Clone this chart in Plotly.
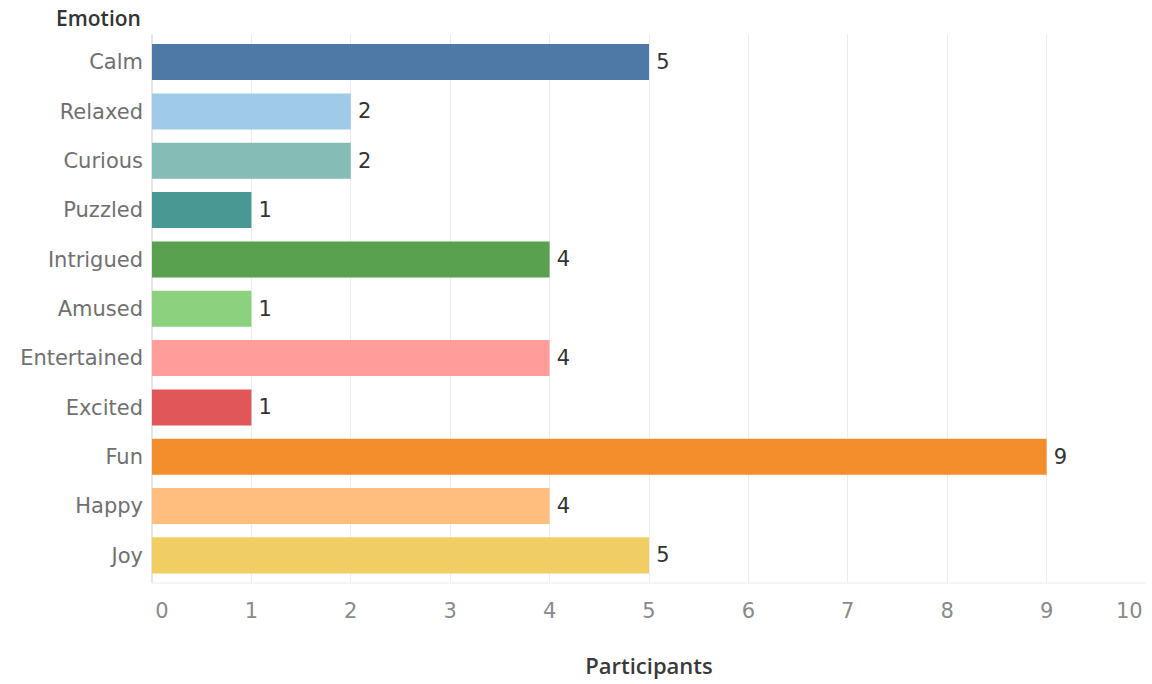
import plotly.graph_objects as go

# Participants per emotion
emotions = ["Calm", "Relaxed", "Curious", "Puzzled", "Intrigued", "Amused",
            "Entertained", "Excited", "Fun", "Happy", "Joy"]
participants = [5, 2, 2, 1, 4, 1, 4, 1, 9, 4, 5]
bar_colors = ["#4e79a7", "#a0cbe8", "#86bcb6", "#499894", "#59a14f", "#8cd17d",
              "#ff9d9a", "#e15759", "#f28e2b", "#ffbe7d", "#f1ce63"]
x_ticks = list(range(0, 11))
x_max = x_ticks[-1]
# first label nudged right off the axis line; the last one is right-aligned separately
x_tick_text = ["\u00a0\u00a0\u00a00"] + [str(v) for v in x_ticks[1:-1]] + [""]

font_family = "DejaVu Sans, Verdana, sans-serif"
title_family = "Open Sans, Noto Sans, sans-serif"
tick_font = dict(family=font_family, size=21, color="#8a8a8a")

fig = go.Figure(
    go.Bar(
        x=participants,
        y=emotions,
        orientation="h",
        marker=dict(color=bar_colors, line=dict(width=0)),
        text=["\u2009" + str(v) for v in participants],
        textposition="outside",
        textfont=dict(family=font_family, size=21, color="#333333"),
        cliponaxis=False,
        width=0.73,
    )
)

fig.update_layout(
    width=1152,
    height=684,
    margin=dict(l=152, r=6, t=34, b=101),
    paper_bgcolor="white",
    plot_bgcolor="white",
    showlegend=False,
    font=dict(family=font_family),
    xaxis=dict(
        range=[0, x_max],
        tickvals=x_ticks,
        ticktext=x_tick_text,
        automargin=False,
        showgrid=True,
        gridcolor="#ececec",
        gridwidth=1,
        zeroline=True,
        zerolinecolor="#e6e6e6",
        showline=False,
        ticks="",
        ticklabelstandoff=13,
        tickfont=tick_font,
        title=dict(text="Participants",
                   font=dict(family=title_family, size=22, color="#3a3a3a", weight=600),
                   standoff=36),
        fixedrange=True,
    ),
    yaxis=dict(
        categoryorder="array",
        categoryarray=emotions,
        autorange=False,
        range=[10.56, -0.57],
        automargin=False,
        showgrid=False,
        zeroline=False,
        showline=False,
        ticks="",
        ticklabelstandoff=8,
        tickfont=dict(family=font_family, size=21, color="#707070"),
        fixedrange=True,
    ),
    shapes=[
        dict(type="line", xref="paper", yref="paper", x0=0, x1=1, y0=0, y1=0,
             line=dict(color="#ececec", width=1)),
    ],
    annotations=[
        dict(text="Emotion", xref="paper", yref="paper", x=0, y=1,
             xanchor="right", yanchor="bottom", xshift=-9, yshift=0,
             showarrow=False,
             font=dict(family=title_family, size=21, color="#333333", weight=600)),
        # last x tick label, right-aligned to its gridline
        dict(text=str(x_max), xref="x", yref="paper", x=x_max, y=0,
             xanchor="right", yanchor="top", xshift=-1, yshift=-14,
             showarrow=False, font=tick_font),
    ],
)

fig.write_html("out.html")
